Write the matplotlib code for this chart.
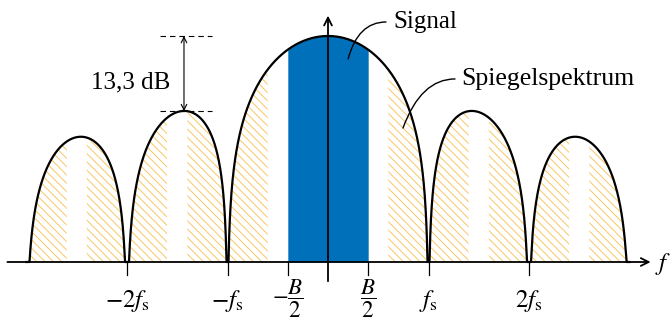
import numpy as np
import matplotlib
matplotlib.use('Agg')
import matplotlib.pyplot as plt

plt.rcParams['font.family'] = ['Liberation Serif', 'DejaVu Serif']
plt.rcParams['mathtext.fontset'] = 'stix'
plt.rcParams['hatch.linewidth'] = 0.7

# Werte (Frequenz in Vielfachen von fs, Pegel in dB)
f_range = (-3.0, 3.0)
half_band = 0.4           # B/2 relativ zu fs
floor_db = -40.0
mirror_centers = [-3, -2, -1, 1, 2, 3]
tick_pos = [-2, -1, -half_band, half_band, 1, 2]
tick_labels = [r'$-2f_\mathrm{s}$', r'$-f_\mathrm{s}$', r'$-\dfrac{B}{2}$',
               r'$\dfrac{B}{2}$', r'$f_\mathrm{s}$', r'$2f_\mathrm{s}$']
sidelobe_db = -13.3

blue = '#0070bb'
hatch_col = '#f8c660'

x = np.linspace(f_range[0], f_range[1], 6001)
y = np.maximum(20 * np.log10(np.abs(np.sinc(x)) + 1e-12), floor_db)

fig = plt.figure(figsize=(6.71, 3.2), dpi=100)
ax = fig.add_axes([0, 0, 1, 1])
ax.axis('off')
ax.set_xlim(-328 / 100.5, 343 / 100.5)
ax.set_ylim((36 - 320) / 5.65, 36 / 5.65)

# Spiegelspektren schraffiert
for c in mirror_centers:
    m = (x >= c - half_band) & (x <= c + half_band)
    ax.fill_between(x[m], floor_db, y[m], facecolor='none', edgecolor=hatch_col,
                    hatch='\\\\\\\\', linewidth=0)

# Nutzsignal
m = (x >= -half_band) & (x <= half_band)
ax.fill_between(x[m], floor_db, y[m], color=blue, linewidth=0)

ax.plot(x, y, color='black', lw=1.6, zorder=3)

# Achsen
ax.annotate('', xy=(3.21, floor_db), xytext=(-3.19, floor_db),
            arrowprops=dict(arrowstyle='->', lw=1.3, color='black', shrinkA=0, shrinkB=0,
                            mutation_scale=14), zorder=4)
ax.annotate('', xy=(0, 3.6), xytext=(0, -43.4),
            arrowprops=dict(arrowstyle='->', lw=1.3, color='black', shrinkA=0, shrinkB=0,
                            mutation_scale=14), zorder=4)
ax.text(3.33, floor_db - 0.3, r'$f$', fontsize=18, ha='center', va='center')

for p, lab in zip(tick_pos, tick_labels):
    ax.plot([p, p], [floor_db, -42.3], color='black', lw=0.9, zorder=4)
    if 'frac' in lab:
        ax.text(p, -46.6, lab, fontsize=16.5, ha='center', va='center')
    else:
        ax.text(p, -46.9, lab, fontsize=18, ha='center', va='center')

# 13,3 dB Bemaßung
ax.plot([-1.67, -1.15], [0, 0], color='black', lw=0.8, ls=(0, (5, 3.5)))
ax.plot([-1.67, -1.15], [sidelobe_db, sidelobe_db], color='black', lw=0.8, ls=(0, (5, 3.5)))
ax.annotate('', xy=(-1.433, sidelobe_db), xytext=(-1.433, 0),
            arrowprops=dict(arrowstyle='<->', lw=0.8, color='black', shrinkA=0, shrinkB=0,
                            mutation_scale=10))
ax.text(-1.565, -9.2, '13,3 dB', fontsize=18, ha='right', va='baseline')

# Beschriftungen
ax.annotate('', xy=(0.2, -4.07), xytext=(0.577, 2.48),
            arrowprops=dict(arrowstyle='-', lw=1.0, color='black', shrinkA=0, shrinkB=0,
                            connectionstyle='angle3,angleA=0,angleB=75'), zorder=5)
ax.text(0.647, 1.42, 'Signal', fontsize=18, ha='left', va='baseline')

ax.annotate('', xy=(0.746, -16.3), xytext=(1.264, -7.6),
            arrowprops=dict(arrowstyle='-', lw=1.0, color='black', shrinkA=0, shrinkB=0,
                            connectionstyle='angle3,angleA=0,angleB=70'), zorder=5)
ax.text(1.323, -8.67, 'Spiegelspektrum', fontsize=18.5, ha='left', va='baseline')

fig.savefig('out.png', dpi=100)
